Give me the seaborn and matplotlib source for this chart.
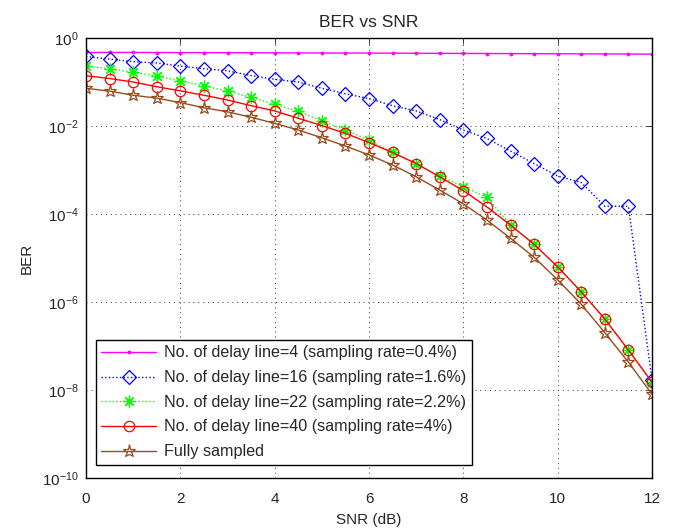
import numpy as np
import pandas as pd
import matplotlib
matplotlib.use("Agg")
import matplotlib.pyplot as plt
import seaborn as sns

snr = [0, 0.5, 1, 1.5, 2, 2.5, 3, 3.5, 4, 4.5, 5, 5.5, 6, 6.5, 7, 7.5, 8, 8.5,
       9, 9.5, 10, 10.5, 11, 11.5, 12]

ber_dl4 = [0.47, 0.47, 0.47, 0.468, 0.466, 0.465, 0.464, 0.462, 0.46, 0.458,
           0.456, 0.455, 0.454, 0.452, 0.45, 0.448, 0.446, 0.444, 0.442, 0.44,
           0.438, 0.436, 0.434, 0.432, 0.43]
ber_dl16 = [0.38, 0.33, 0.29, 0.27, 0.23, 0.20, 0.18, 0.14, 0.115, 0.10,
            0.072, 0.054, 0.042, 0.029, 0.022, 0.014, 0.0081, 0.0052, 0.0027,
            0.0014, 7.3e-4, 5.2e-4, 1.5e-4, 1.5e-4, 1.7e-8]
ber_dl22 = [0.23, 0.20, 0.166, 0.137, 0.106, 0.082, 0.062, 0.045, 0.031,
            0.0215, 0.013, 0.0081, 0.0048, 0.0025, 0.0014, 7.2e-4, 4.2e-4,
            2.4e-4, 5.6e-5, 2.05e-5, 6.3e-6, 1.7e-6, 4.1e-7, 8.1e-8, 1.5e-8]
ber_dl40 = [0.139, 0.12, 0.10, 0.078, 0.063, 0.05, 0.039, 0.029, 0.022, 0.015,
            0.0102, 0.0068, 0.0042, 0.0025, 0.0014, 7e-4, 3.4e-4, 1.45e-4,
            5.6e-5, 2.05e-5, 6.3e-6, 1.7e-6, 4.1e-7, 8.1e-8, 1.5e-8]
ber_full = [0.072, 0.062, 0.05, 0.043, 0.034, 0.026, 0.021, 0.0158, 0.0115,
            0.0081, 0.0054, 0.0035, 0.0022, 0.0013, 7e-4, 3.5e-4, 1.7e-4,
            7.3e-5, 2.8e-5, 1.04e-5, 3.2e-6, 8.9e-7, 2.0e-7, 4.3e-8, 8.0e-9]

labels = ["No. of delay line=4 (sampling rate=0.4%)",
          "No. of delay line=16 (sampling rate=1.6%)",
          "No. of delay line=22 (sampling rate=2.2%)",
          "No. of delay line=40 (sampling rate=4%)",
          "Fully sampled"]

colors = ['#FF00FF', '#0000FF', '#00FF00', '#FF0000', '#9B4A1C']

sns.set_style("white")
plt.rcParams['font.family'] = ['Liberation Sans', 'DejaVu Sans']
plt.rcParams['font.size'] = 10

fig = plt.figure(figsize=(6.75, 5.31), dpi=100)
ax = fig.add_axes([86/675, 1 - 478/531, (652-86)/675, (478-38)/531])

styles = [
    dict(linestyle='-', marker='.', markersize=4, linewidth=1.0),
    dict(linestyle=':', marker='D', markersize=7, markerfacecolor='none',
         markeredgewidth=0.9, linewidth=1.0),
    dict(linestyle=':', marker=(8, 2, 0), markersize=8.5,
         markeredgewidth=0.9, linewidth=1.0),
    dict(linestyle='-', marker='o', markersize=7.5, markerfacecolor='none',
         markeredgewidth=0.9, linewidth=1.0),
    dict(linestyle='-', marker='*', markersize=9.5, markerfacecolor='none',
         markeredgewidth=0.9, linewidth=1.0),
]

series = [ber_dl4, ber_dl16, ber_dl22, ber_dl40, ber_full]
for vals, lab, col, st in zip(series, labels, colors, styles):
    df = pd.DataFrame({'SNR': snr, 'BER': vals})
    sns.lineplot(data=df, x='SNR', y='BER', ax=ax, label=lab, color=col,
                 markeredgecolor=col, **st)

ax.set_yscale('log')
ax.set_xlim(0, 12)
ax.set_ylim(1e-10, 1e0)
ax.set_xticks([0, 2, 4, 6, 8, 10, 12])
ax.set_yticks([1e0, 1e-2, 1e-4, 1e-6, 1e-8, 1e-10])
ax.yaxis.set_minor_locator(matplotlib.ticker.NullLocator())
ax.tick_params(direction='in', length=4, width=0.6, labelsize=11, top=True, right=True)
ax.tick_params(axis='x', pad=10)
ax.tick_params(axis='y', pad=5)
ax.grid(True, which='major', linestyle=(0, (1, 4)), color='#333333', linewidth=0.7)
for s in ax.spines.values():
    s.set_visible(True)
    s.set_color('black')
    s.set_linewidth(1.0)

ax.set_title('BER vs SNR', fontsize=12.5, pad=8)
ax.set_xlabel('SNR (dB)', fontsize=11, labelpad=5)
ax.set_ylabel('BER', fontsize=11, labelpad=6)

leg = ax.legend(loc='lower left', bbox_to_anchor=(0.017, 0.03), fontsize=11.6,
                frameon=True, fancybox=False, edgecolor='black', framealpha=1,
                borderpad=0.35, labelspacing=0.6, handlelength=3.4, handletextpad=0.5,
                borderaxespad=0)
leg.get_frame().set_linewidth(1.0)

fig.savefig('out.png', dpi=100)
